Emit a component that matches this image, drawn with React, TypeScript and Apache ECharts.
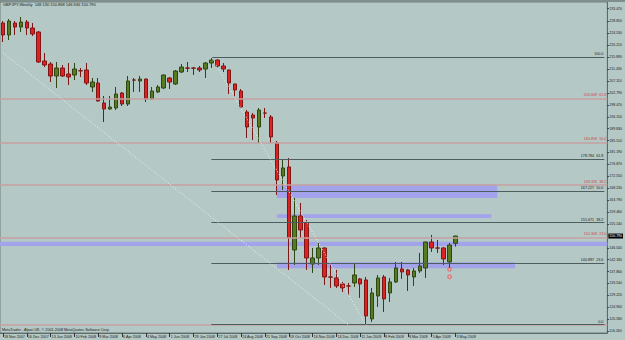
import React, { useEffect, useRef } from "react";
import * as echarts from "echarts";

// ---------- data ----------
const titleText = "GBPJPY,Weekly  148.130 150.868 146.946 150.790";
const footerText = "MetaTrader - Alpari UK, \u00a9 2001-2008 MetaQuotes Software Corp.";

const monthNames = ["Jan", "Feb", "Mar", "Apr", "May", "Jun", "Jul", "Aug", "Sep", "Oct", "Nov", "Dec"];
const weekCount = 102; // candles + empty right margin
const firstWeekUTC = Date.UTC(2007, 10, 18);
const categories: string[] = [];
for (let i = 0; i < weekCount; i++) {
  const d = new Date(firstWeekUTC + i * 7 * 86400000);
  categories.push(`${d.getUTCDate()} ${monthNames[d.getUTCMonth()]} ${d.getUTCFullYear()}`);
}

// [open, close, low, high]
const candles: number[][] = [
  [228.27, 223.91, 221.36, 228.99],
  [223.91, 228.99, 222.09, 229.72],
  [228.27, 226.81, 223.91, 228.99],
  [226.81, 228.63, 225.0, 230.45],
  [228.63, 226.45, 223.91, 229.36],
  [226.45, 224.27, 223.54, 228.27],
  [225.0, 214.09, 213.72, 225.36],
  [214.45, 213.0, 212.27, 217.36],
  [213.36, 209.0, 206.81, 214.09],
  [209.0, 211.91, 204.63, 214.09],
  [211.91, 209.0, 208.63, 213.0],
  [209.72, 208.63, 205.72, 213.72],
  [209.36, 211.54, 207.54, 213.72],
  [210.95, 210.85, 208.63, 211.91],
  [211.18, 206.45, 205.72, 213.72],
  [205.0, 206.81, 203.18, 208.27],
  [206.45, 199.9, 199.7, 208.27],
  [199.18, 196.99, 192.27, 201.72],
  [196.99, 197.72, 196.63, 201.72],
  [197.36, 202.45, 196.63, 205.0],
  [202.81, 198.81, 198.09, 203.18],
  [198.81, 207.18, 198.09, 209.0],
  [207.55, 207.5, 203.18, 208.27],
  [207.18, 207.91, 203.18, 209.0],
  [207.91, 200.63, 199.54, 208.0],
  [200.63, 203.54, 200.27, 205.0],
  [203.18, 205.0, 202.81, 205.72],
  [204.63, 209.36, 204.27, 209.5],
  [208.27, 206.81, 204.27, 208.63],
  [206.09, 210.82, 205.72, 211.18],
  [210.45, 212.27, 210.09, 213.36],
  [211.91, 211.85, 210.45, 214.09],
  [211.9, 211.85, 209.36, 212.27],
  [211.91, 211.18, 210.45, 212.63],
  [211.54, 213.72, 208.27, 214.09],
  [213.72, 214.81, 211.91, 215.89],
  [214.81, 212.63, 211.91, 215.0],
  [212.63, 211.54, 210.45, 213.72],
  [211.18, 206.45, 202.45, 211.3],
  [206.09, 203.9, 201.36, 206.2],
  [203.54, 197.72, 197.5, 204.27],
  [195.9, 190.45, 186.45, 196.63],
  [194.81, 193.72, 185.73, 195.54],
  [190.45, 196.63, 184.63, 197.36],
  [195.55, 195.5, 193.72, 197.36],
  [194.09, 186.82, 184.63, 194.81],
  [184.63, 171.18, 165.73, 185.36],
  [172.64, 175.55, 167.55, 178.45],
  [175.91, 150.09, 138.46, 179.18],
  [145.73, 158.09, 140.28, 164.64],
  [158.09, 153.0, 150.09, 162.82],
  [155.55, 142.82, 138.46, 156.64],
  [140.64, 142.82, 137.37, 146.46],
  [142.82, 146.46, 140.28, 148.28],
  [146.46, 135.91, 133.0, 146.6],
  [135.91, 135.85, 131.92, 140.28],
  [135.55, 132.64, 131.92, 138.46],
  [133.37, 131.92, 130.46, 134.1],
  [132.64, 132.6, 129.37, 133.73],
  [133.73, 136.64, 132.28, 141.0],
  [135.19, 133.37, 128.28, 135.55],
  [134.82, 121.74, 118.3, 135.91],
  [120.65, 130.1, 119.56, 131.92],
  [129.0, 135.55, 125.0, 136.64],
  [135.91, 127.92, 123.19, 136.64],
  [130.1, 134.1, 126.82, 135.55],
  [134.1, 139.19, 133.73, 141.37],
  [138.82, 137.73, 135.19, 141.37],
  [138.46, 136.64, 130.82, 138.82],
  [135.91, 138.1, 132.64, 139.19],
  [138.1, 139.92, 137.37, 144.64],
  [139.19, 148.64, 135.55, 148.7],
  [148.64, 146.46, 145.0, 151.19],
  [146.46, 146.4, 144.64, 149.37],
  [146.46, 142.46, 140.28, 146.8],
  [141.37, 147.55, 139.19, 148.28],
  [148.13, 150.79, 146.946, 150.868],
];

const lastCandleIndex = 76;
const currentPrice = 150.79;
const currentPriceLabel = "150.790";

const priceTicks = [
  116.26, 120.58, 124.9, 129.22, 133.54, 137.86, 142.18, 146.5, 155.14, 159.46,
  163.79, 168.23, 172.55, 176.87, 181.19, 185.51, 189.83, 194.15, 198.47, 202.79,
  207.11, 211.43, 215.89, 220.21, 224.53, 228.85, 233.47,
];
const priceMin = 115.53;
const priceMax = 235.91;

// red Fibonacci set (full width)
const redFibPrices = [200.849, 184.858, 169.326, 150.308, 118.6];
const redFibLabels = ["200.849  61.8", "184.858  50.0", "169.326  38.2", "150.308  23.6", ""];

// gray Fibonacci set (from the July 2008 top)
const grayFibStart = 35;
const grayFibEnd = 101;
const grayFibPrices = [215.89, 178.784, 167.227, 155.671, 140.897, 118.6];
const grayFibLabels = ["100.0", "178.784  61.8", "167.227  50.0", "155.671  38.2", "140.897  23.6", "0.0"];

// dotted trend lines: [startIdx, startPrice, endIdx, endPrice]
const trendLines = [
  [0, 217.4, 58, 118.5],
  [35, 215.89, 61, 118.3],
];

// zones: [startIdx, topPrice, endIdx, bottomPrice]
const zones = [
  [46, 169.33, 83, 164.64],
  [46, 158.71, 82, 157.37],
  [46, 141.26, 86, 139.08],
];
const fullZone = [148.75, 147.2];

// fractal marks under week 75
const fractals = [
  [75, 138.7],
  [75, 136.0],
];

// ---------- styles ----------
const BG = "#b4c8c5";
const FONT = "Liberation Sans";

export default function App() {
  const ref = useRef<HTMLDivElement>(null);

  useEffect(() => {
    document.body.style.margin = "0";
    document.body.style.background = BG;
    const chart = echarts.init(ref.current!, null, { renderer: "svg" });

    const markLineData: any[] = [];
    redFibPrices.forEach((p, i) => {
      markLineData.push({
        yAxis: p,
        lineStyle: { color: "#c6a09f", width: 1.5, type: "solid" },
        label: {
          show: redFibLabels[i] !== "",
          formatter: redFibLabels[i],
          position: "insideEndTop",
          distance: 1,
          color: "#d04848",
          fontSize: 3.7,
          fontFamily: FONT,
        },
      });
    });
    grayFibPrices.forEach((p, i) => {
      markLineData.push([
        {
          coord: [grayFibStart, p],
          lineStyle: { color: "#4e5e5e", width: 1, type: "solid" },
          label: {
            show: true,
            formatter: grayFibLabels[i],
            position: "insideEndTop",
            distance: 1,
            color: "#222",
            fontSize: 3.7,
            fontFamily: FONT,
          },
        },
        { coord: [grayFibEnd, p] },
      ]);
    });
    trendLines.forEach((t) => {
      markLineData.push([
        {
          coord: [t[0], t[1]],
          lineStyle: { color: "#f2f6f6", width: 1, type: [1, 2] },
          label: { show: false },
        },
        { coord: [t[2], t[3]] },
      ]);
    });

    const markAreaData: any[] = zones.map((z) => [
      { coord: [z[0], z[1]] },
      { coord: [z[2], z[3]] },
    ]);
    markAreaData.push([{ yAxis: fullZone[0] }, { yAxis: fullZone[1] }]);

    chart.setOption({
      animation: false,
      backgroundColor: BG,
      title: {
        text: titleText,
        left: 3,
        top: 2,
        padding: 0,
        textStyle: { fontSize: 4, fontWeight: "normal", color: "#1a1a1a", fontFamily: FONT },
      },
      graphic: [
        { type: "rect", left: 0, top: 0, shape: { width: 625, height: 2 }, style: { fill: "#7f8e8c" }, z: 10 },
        {
          type: "text",
          left: 2,
          top: 328,
          style: { text: footerText, fontSize: 3.7, fill: "#1a1a1a", fontFamily: FONT },
          z: 10,
        },
      ],
      grid: {
        left: -2,
        top: 2,
        width: 612,
        height: 331,
        show: true,
        backgroundColor: BG,
        borderColor: "#6e7d7b",
        borderWidth: 1,
      },
      xAxis: {
        type: "category",
        data: categories,
        boundaryGap: true,
        axisLine: { show: true, lineStyle: { color: "#5d6b69", width: 1 } },
        axisTick: {
          show: true,
          alignWithLabel: true,
          length: 4,
          interval: (idx: number) => idx % 4 === 0 && idx <= lastCandleIndex,
          lineStyle: { color: "#333" },
        },
        axisLabel: {
          show: true,
          interval: (idx: number) => idx % 4 === 0 && idx <= lastCandleIndex,
          align: "left",
          margin: 2,
          padding: [0, 0, 0, 1],
          fontSize: 3.7,
          color: "#1a1a1a",
          fontFamily: FONT,
        },
        splitLine: { show: false },
      },
      yAxis: {
        type: "value",
        position: "right",
        min: priceMin,
        max: priceMax,
        axisLine: { show: true, lineStyle: { color: "#5d6b69", width: 1 } },
        axisTick: { show: true, length: 1.5, customValues: priceTicks, lineStyle: { color: "#333" } },
        axisLabel: {
          show: true,
          customValues: priceTicks,
          formatter: (v: number) => v.toFixed(3),
          margin: 2,
          fontSize: 3.5,
          color: "#1a1a1a",
          fontFamily: FONT,
        },
        splitLine: { show: false },
      },
      series: [
        {
          type: "scatter",
          z: 1,
          data: fractals,
          symbol: "emptyCircle",
          symbolSize: 3,
          itemStyle: { color: "#e07070", borderColor: "#e07070", borderWidth: 0.8 },
          markArea: {
            silent: true,
            itemStyle: { color: "#a3a3ec", opacity: 1 },
            label: { show: false },
            data: markAreaData,
          },
          markLine: {
            silent: true,
            symbol: ["none", "none"],
            data: markLineData,
          },
        },
        {
          type: "candlestick",
          z: 3,
          data: candles,
          barWidth: 4,
          itemStyle: {
            color: "#567b20",
            color0: "#de2222",
            borderColor: "#2f4612",
            borderColor0: "#7e1616",
            borderWidth: 1,
          },
        },
        {
          type: "line",
          z: 5,
          data: [],
          markLine: {
            silent: true,
            symbol: ["none", "none"],
            data: [
              {
                yAxis: currentPrice,
                lineStyle: { color: "rgba(0,0,0,0)", width: 1 },
                label: {
                  show: true,
                  position: "end",
                  distance: 1,
                  formatter: currentPriceLabel,
                  color: "#ffffff",
                  backgroundColor: "#000000",
                  padding: [0.5, 1],
                  fontSize: 3.5,
                  fontFamily: FONT,
                },
              },
            ],
          },
        },
      ],
    });

    return () => chart.dispose();
  }, []);

  return <div ref={ref} style={{ width: 625, height: 340, background: BG }} />;
}
